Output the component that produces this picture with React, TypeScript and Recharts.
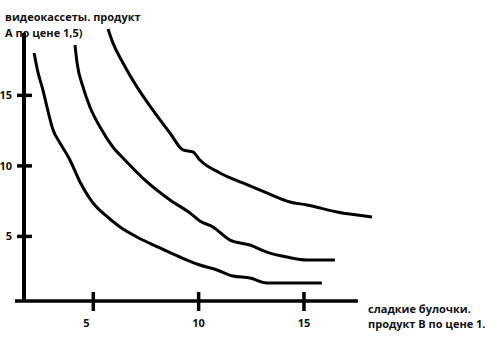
import React from "react";
import { LineChart, Line, XAxis, YAxis, ReferenceLine } from "recharts";

// подписи делений на осях
const X_TICKS = [5, 10, 15];
const Y_TICKS = [5, 10, 15];

// кривые безразличия: x - булочки (B), y - видеокассеты (A)
const U1_X = [2.19, 2.38, 2.61, 2.8, 3.09, 3.42, 3.89, 4.37, 4.99, 5.56, 6.27, 7.07, 8.17, 9.11, 10.06, 10.87, 11.63, 12.44, 13.24, 14.0, 15.85];
const U1_Y = [18.01, 16.59, 15.38, 14.18, 12.55, 11.62, 10.42, 8.86, 7.37, 6.52, 5.67, 4.96, 4.18, 3.54, 2.97, 2.62, 2.19, 2.05, 1.7, 1.7, 1.7];

const U2_X = [4.13, 4.23, 4.51, 4.84, 5.32, 5.93, 6.5, 7.55, 8.64, 9.59, 10.06, 10.68, 11.49, 12.44, 13.24, 14.19, 15.14, 16.47];
const U2_Y = [18.57, 17.3, 15.6, 14.18, 12.76, 11.34, 10.42, 8.86, 7.58, 6.66, 6.09, 5.67, 4.74, 4.39, 3.89, 3.54, 3.33, 3.33];

const U3_X = [5.7, 5.93, 6.41, 7.07, 7.83, 8.64, 9.26, 9.73, 10.06, 11.01, 12.1, 13.24, 14.34, 15.14, 16.57, 18.23];
const U3_Y = [19.71, 18.72, 17.3, 15.6, 13.96, 12.33, 11.13, 10.99, 10.42, 9.5, 8.79, 8.08, 7.44, 7.23, 6.73, 6.38];

const X_DOMAIN = [1.71, 18.61];
const Y_DOMAIN = [0.42, 19.99];
// концы нарисованных от руки осей
const X_AXIS_FROM = 1.28;
const X_AXIS_TO = 17.56;
const Y_AXIS_TOP = 19.43;

const FONT = "'Open Sans', sans-serif";
const INK = "#000";

const toPoints = (xs: number[], ys: number[]) => xs.map((x, i) => ({ x, y: ys[i] }));

const u1 = toPoints(U1_X, U1_Y);
const u2 = toPoints(U2_X, U2_Y);
const u3 = toPoints(U3_X, U3_Y);

const XTick = (props: any) => {
  const { x, y, payload } = props;
  const shift = payload.value === 5 ? -7 : 0; // "5" нарисована левее риски
  return (
    <g>
      <line x1={x} x2={x} y1={y - 9} y2={y + 10} stroke={INK} strokeWidth={3.5} />
      <text x={x + shift} y={y + 26} textAnchor="middle" fontFamily={FONT} fontWeight={700} fontSize={11} fill="#111">
        {payload.value}
      </text>
    </g>
  );
};

const YTick = (props: any) => {
  const { x, y, payload } = props;
  return (
    <g>
      <line x1={x - 7} x2={x + 8} y1={y} y2={y} stroke={INK} strokeWidth={3.5} />
      <text x={x - 12} y={y + 4} textAnchor="end" fontFamily={FONT} fontWeight={700} fontSize={11} fill="#111">
        {payload.value}
      </text>
    </g>
  );
};

export default function App() {
  return (
    <div style={{ position: "absolute", left: 0, top: 0, width: 499, height: 342, background: "#fff" }}>
      <LineChart width={499} height={342} margin={{ top: 25, right: 119, bottom: 0, left: 0 }}>
        <XAxis
          type="number"
          dataKey="x"
          domain={X_DOMAIN}
          allowDataOverflow
          ticks={X_TICKS}
          interval={0}
          axisLine={false}
          tickLine={false}
          tickSize={0}
          tickMargin={0}
          height={41}
          tick={(p: any) => <XTick {...p} />}
        />
        <YAxis
          type="number"
          dataKey="y"
          domain={Y_DOMAIN}
          allowDataOverflow
          ticks={Y_TICKS}
          interval={0}
          axisLine={false}
          tickLine={false}
          tickSize={0}
          tickMargin={0}
          width={24}
          tick={(p: any) => <YTick {...p} />}
        />
        <ReferenceLine
          segment={[{ x: X_AXIS_FROM, y: Y_DOMAIN[0] }, { x: X_AXIS_TO, y: Y_DOMAIN[0] }]}
          ifOverflow="visible"
          stroke={INK}
          strokeWidth={3.5}
        />
        <ReferenceLine
          segment={[{ x: X_DOMAIN[0], y: Y_DOMAIN[0] }, { x: X_DOMAIN[0], y: Y_AXIS_TOP }]}
          ifOverflow="visible"
          stroke={INK}
          strokeWidth={4}
        />
        <Line data={u1} dataKey="y" type="monotone" stroke={INK} strokeWidth={3} dot={false} isAnimationActive={false} />
        <Line data={u2} dataKey="y" type="monotone" stroke={INK} strokeWidth={3} dot={false} isAnimationActive={false} />
        <Line data={u3} dataKey="y" type="monotone" stroke={INK} strokeWidth={3} dot={false} isAnimationActive={false} />
      </LineChart>
      <svg width={499} height={342} style={{ position: "absolute", left: 0, top: 0, pointerEvents: "none" }}>
        <g fontFamily={FONT} fontWeight={700} fontSize={11} fill="#111">
          <text x={5} y={21}>видеокассеты. продукт</text>
          <text x={5} y={37}>A по цене 1,5)</text>
          <text x={368} y={313}>сладкие булочки.</text>
          <text x={368} y={328}>продукт В по цене 1.</text>
        </g>
      </svg>
    </div>
  );
}
